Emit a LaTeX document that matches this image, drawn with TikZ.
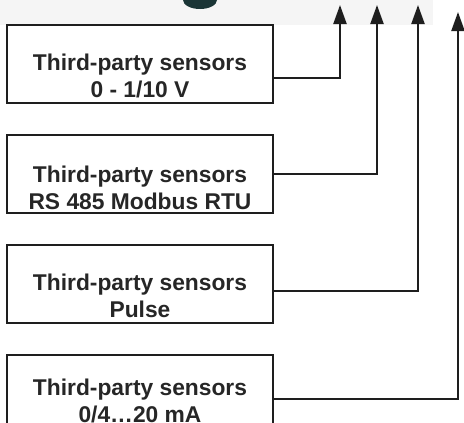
\documentclass[tikz,border=0pt]{standalone}
\usepackage{fontspec}
\setmainfont{Liberation Sans}
\usepackage{tikz}
\usetikzlibrary{positioning}
\usetikzlibrary{arrows.meta}
\definecolor{edgegray}{HTML}{1E1E1E}
\definecolor{textgray}{HTML}{262626}
\definecolor{dometeal}{HTML}{1B3536}

\begin{document}
\begin{tikzpicture}[x=1pt, y=-1pt, >={Triangle[length=19pt,width=13pt]},
    sensorbox/.style = {draw=edgegray, line width=2pt, rectangle, minimum width=266pt, minimum height=78pt, inner sep=0pt},
    sensortext/.style = {align=center, inner sep=0pt, text depth=0pt, text=textgray,
      font=\fontsize{22.8}{27}\selectfont\bfseries},
    conn/.style = {draw=edgegray, line width=2.2pt, ->}
    ]
    \useasboundingbox (0,0) rectangle (464,423);
    \clip (0,0) rectangle (464,423);
    % top strip of the device picture
    \fill[black!4] (0,0) rectangle (433,25);
    \fill[dometeal] (183,0) arc[start angle=180, end angle=0, x radius=17, y radius=9] -- cycle;

    \node[sensorbox] (s1) at (140,64) {};
    \node[sensorbox] (s2) [below=30pt of s1] {};
    \node[sensorbox] (s3) [below=30pt of s2] {};
    \node[sensorbox] (s4) [below=30pt of s3] {};

    \node[sensortext] (t1) [above=6pt of s1.south, anchor=south] {Third-party sensors\\0 - 1/10 V};
    \node[sensortext] (t2) [above=4pt of s2.south, anchor=south] {Third-party sensors\\RS 485 Modbus RTU};
    \node[sensortext] (t3) [above=6pt of s3.south, anchor=south] {Third-party sensors\\Pulse};
    \node[sensortext] (t4) [above=11pt of s4.south, anchor=south] {Third-party sensors\\0/4…20 mA};

    \coordinate (a1) at (340,5);
    \coordinate (a2) at (377,5);
    \coordinate (a3) at (418,5);
    \coordinate (a4) at (458,12);

    \draw[conn] ([yshift=-14pt]s1.east) -| (a1);
    \draw[conn] (s2.east) -| (a2);
    \draw[conn] ([yshift=-7pt]s3.east) -| (a3);
    \draw[conn] ([yshift=-5pt]s4.east) -| (a4);
\end{tikzpicture}
\end{document}
